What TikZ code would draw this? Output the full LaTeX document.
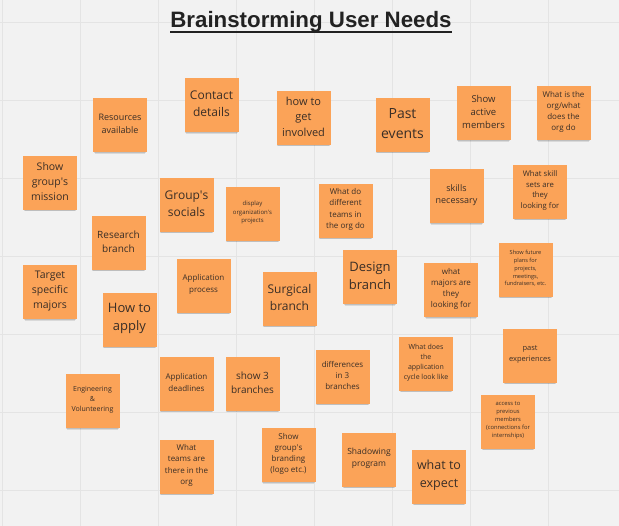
\documentclass[tikz,border=0pt]{standalone}
\usepackage{fontspec}
\setmainfont{Open Sans}
\newfontfamily\titlefont{Liberation Sans}
\usetikzlibrary{shadows}
\definecolor{bgcol}{RGB}{242,242,242}
\definecolor{gridcol}{RGB}{228,228,228}
\definecolor{notecol}{RGB}{251,163,88}
\definecolor{notetext}{RGB}{58,46,38}
\definecolor{titlecol}{RGB}{34,34,34}
\tikzset{
  gridline/.style={draw=gridcol, line width=0.8pt},
  sticky/.style={fill=notecol, draw=none, minimum width=54pt, minimum height=54pt,
    inner sep=0pt,
    general shadow={fill=black, opacity=.10, shadow yshift=-3.5pt, shadow scale=.93},
    general shadow={fill=black, opacity=.12, shadow yshift=-1.8pt, shadow scale=.97}},
  stickytext/.style={inner sep=0pt, align=center, text=notetext},
}
\newcommand\fsz[1]{\fontsize{#1pt}{\the\dimexpr #1pt*14/10\relax}\selectfont}
\newcommand\stickynote[5]{%
  \node[sticky] (#1-bg) at (#2,#3) {};
  \node[stickytext, font=\fsz{#4}, yshift=1.5pt] (#1) at (#1-bg.center) {#5};}
\newcommand\ap{\textquotesingle}
\begin{document}
\begin{tikzpicture}[x=1pt,y=-1pt]
\fill[bgcol] (0,0) rectangle (619,526);
\useasboundingbox (0,0) rectangle (619,526);
\foreach \gx in {2,80,158,236,314,392,470,548} \draw[gridline] (\gx,0) -- (\gx,526);
\foreach \gy in {22,100,178,256,334,412,490} \draw[gridline] (0,\gy) -- (619,\gy);
% title
\node[font=\titlefont\bfseries\fontsize{22.3pt}{26pt}\selectfont, text=titlecol, inner sep=0pt, anchor=base] (title) at (311,27.7) {Brainstorming User Needs};
\draw[titlecol, line width=1.7pt] ([yshift=-4pt]title.base west) -- ([yshift=-4pt]title.base east);
% notes
\stickynote{resources}{120}{125.5}{9}{Resources\\available}
\stickynote{contact}{211.5}{105.5}{12}{Contact\\details}
\stickynote{involved}{303.5}{118}{11}{how to\\get\\involved}
\stickynote{pastevents}{402.5}{125}{14}{Past\\events}
\stickynote{activemembers}{483.5}{113.5}{9.5}{Show\\active\\members}
\stickynote{whatisorg}{563.5}{113.5}{8}{What is the\\org/what\\does the\\org do}
\stickynote{mission}{50}{183}{10.5}{Show\\group\ap s\\mission}
\stickynote{socials}{186.5}{205}{12}{Group\ap s\\socials}
\stickynote{projects}{252.5}{214}{6}{display\\organization\ap s\\projects}
\stickynote{teamsdo}{345.5}{211}{8}{What do\\different\\teams in\\the org do}
\stickynote{skills}{456.5}{196.5}{9}{skills\\necessary}
\stickynote{skillsets}{540}{192}{7.7}{What skill\\sets are\\they\\looking for}
\stickynote{research}{118.5}{243}{10}{Research\\branch}
\stickynote{targetmajors}{50}{292.5}{10.5}{Target\\specific\\majors}
\stickynote{howapply}{129.5}{320}{13}{How to\\apply}
\stickynote{appprocess}{203.5}{286}{8}{Application\\process}
\stickynote{surgical}{289.5}{299}{12}{Surgical\\branch}
\stickynote{design}{370}{277.5}{13}{Design\\branch}
\stickynote{whatmajors}{451}{290.5}{8}{what\\majors are\\they\\looking for}
\stickynote{futureplans}{525.5}{270}{5.6}{Show future\\plans for\\projects,\\meetings,\\fundraisers, etc.}
\stickynote{pastexp}{530}{356}{7.5}{past\\experiences}
\stickynote{appcycle}{426}{364}{7}{What does\\the\\application\\cycle look like}
\stickynote{differences}{342.5}{377}{8}{differences\\in 3\\branches}
\stickynote{engineering}{92.5}{401.5}{7}{Engineering\\\&\\Volunteering}
\stickynote{deadlines}{186.5}{384}{8}{Application\\deadlines}
\stickynote{threebranches}{252.5}{384}{10}{show 3\\branches}
\stickynote{whatteams}{186.5}{467}{8}{What\\teams are\\there in the\\org}
\stickynote{branding}{288.5}{455.5}{8}{Show\\group\ap s\\branding\\(logo etc.)}
\stickynote{shadowing}{369}{460}{8.5}{Shadowing\\program}
\stickynote{expect}{439}{477}{12.5}{what to\\expect}
\stickynote{previous}{508}{422}{5.8}{access to\\previous\\members\\(connections for\\internships)}
\end{tikzpicture}
\end{document}
